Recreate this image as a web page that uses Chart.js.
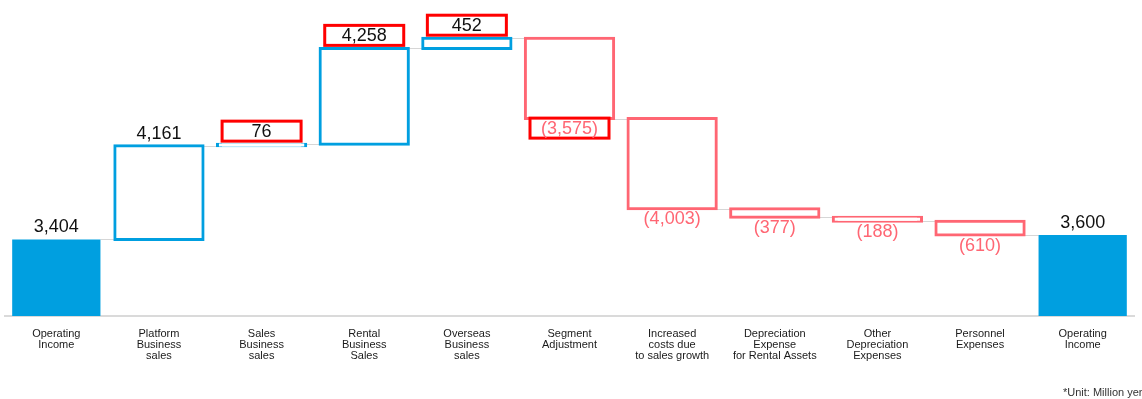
<!DOCTYPE html>
<html>
<head>
<meta charset="utf-8">
<script src="https://cdn.jsdelivr.net/npm/chart.js@4/dist/chart.umd.min.js"></script>
<style>
  html, body { margin: 0; padding: 0; background: #fff; }
  #wrap { width: 1142px; height: 399px; position: relative; }
</style>
</head>
<body>
<div id="wrap"><canvas id="waterfall"></canvas></div>
<script>
// bridge categories (multi-line tick labels)
const categories = [
  ["Operating", "Income"],
  ["Platform", "Business", "sales"],
  ["Sales", "Business", "sales"],
  ["Rental", "Business", "Sales"],
  ["Overseas", "Business", "sales"],
  ["Segment", "Adjustment"],
  ["Increased", "costs due", "to sales growth"],
  ["Depreciation", "Expense", "for Rental Assets"],
  ["Other", "Depreciation", "Expenses"],
  ["Personnel", "Expenses"],
  ["Operating", "Income"]
];
// million yen; totals are absolute, the rest are changes
const changes = [3404, 4161, 76, 4258, 452, -3575, -4003, -377, -188, -610, 3600];
const isTotal = [true, false, false, false, false, false, false, false, false, false, true];
const highlighted = [false, false, true, true, true, true, false, false, false, false, false];
const unitNote = "*Unit: Million yen";

const BLUE = "#009fe0";
const PINK = "#ff6673";
const RED = "#ff0000";
const FONT = "'Liberation Sans', Arial, sans-serif";

// floating [start, end] ranges for each step
let running = 0;
const ranges = changes.map((v, i) => {
  if (isTotal[i]) { running = v; return [0, v]; }
  const start = running;
  running += v;
  return [start, running];
});

const fills = changes.map((v, i) => isTotal[i] ? BLUE : "#ffffff");
const borders = changes.map((v, i) => isTotal[i] ? BLUE : (v < 0 ? PINK : BLUE));
const borderWidths = changes.map((v, i) => isTotal[i] ? 0 : 3);
// outline boxes straddle their edges, so grow them by half a stroke
const inflate = changes.map((v, i) => isTotal[i] ? 0 : 1.5);

function fmt(v) {
  const s = Math.abs(v).toLocaleString("en-US");
  return v < 0 ? "(" + s + ")" : s;
}

const waterfallExtras = {
  id: "waterfallExtras",
  beforeDatasetsDraw(chart) {
    // thin connectors between consecutive steps
    const ctx = chart.ctx;
    const y = chart.scales.y;
    const bars = chart.getDatasetMeta(0).data;
    ctx.save();
    ctx.strokeStyle = "#d6d6d6";
    ctx.lineWidth = 1;
    for (let i = 0; i < bars.length - 1; i++) {
      const py = Math.round(y.getPixelForValue(ranges[i][1])) + 0.5;
      ctx.beginPath();
      ctx.moveTo(bars[i].x + bars[i].width / 2, py);
      ctx.lineTo(bars[i + 1].x - bars[i + 1].width / 2, py);
      ctx.stroke();
    }
    ctx.restore();
  },
  afterDatasetsDraw(chart) {
    const ctx = chart.ctx;
    const bars = chart.getDatasetMeta(0).data;
    ctx.save();
    ctx.font = "18px " + FONT;
    ctx.textAlign = "center";
    ctx.textBaseline = "middle";
    bars.forEach((bar, i) => {
      const top = Math.min(bar.y, bar.base);
      const bottom = Math.max(bar.y, bar.base);
      const neg = changes[i] < 0;
      const ly = neg ? bottom + 9.5 : top - 13;
      if (highlighted[i]) {
        ctx.fillStyle = "#ffffff";
        ctx.fillRect(bar.x - 39.5, ly - 10, 79, 20);
        ctx.strokeStyle = RED;
        ctx.lineWidth = 3;
        ctx.strokeRect(bar.x - 39.5, ly - 10, 79, 20);
      }
      ctx.fillStyle = neg ? PINK : "#111111";
      ctx.fillText(fmt(changes[i]), bar.x, ly + 1);
    });
    ctx.restore();
  },
  afterDraw(chart) {
    const ctx = chart.ctx;
    ctx.save();
    ctx.font = "11px " + FONT;
    ctx.fillStyle = "#333333";
    ctx.textAlign = "left";
    ctx.textBaseline = "middle";
    ctx.fillText(unitNote, 1063, 393);
    ctx.restore();
  }
};

new Chart(document.getElementById("waterfall"), {
  type: "bar",
  data: {
    labels: categories,
    datasets: [{
      data: ranges,
      backgroundColor: fills,
      borderColor: borders,
      borderWidth: borderWidths,
      borderSkipped: false,
      inflateAmount: inflate,
      barPercentage: 0.86,
      categoryPercentage: 1
    }]
  },
  options: {
    responsive: true,
    maintainAspectRatio: false,
    animation: false,
    layout: { padding: { left: 5, right: 8, top: 0, bottom: 34 } },
    plugins: {
      legend: { display: false },
      tooltip: { enabled: false }
    },
    scales: {
      x: {
        grid: { display: false },
        border: { display: true, color: "#dadada", width: 2 },
        ticks: {
          color: "#1a1a1a",
          font: { family: FONT, size: 11, lineHeight: 1.0 },
          padding: 4,
          maxRotation: 0,
          autoSkip: false
        }
      },
      y: { display: false, min: 0, max: 14050 }
    }
  },
  plugins: [waterfallExtras]
});
</script>
</body>
</html>
